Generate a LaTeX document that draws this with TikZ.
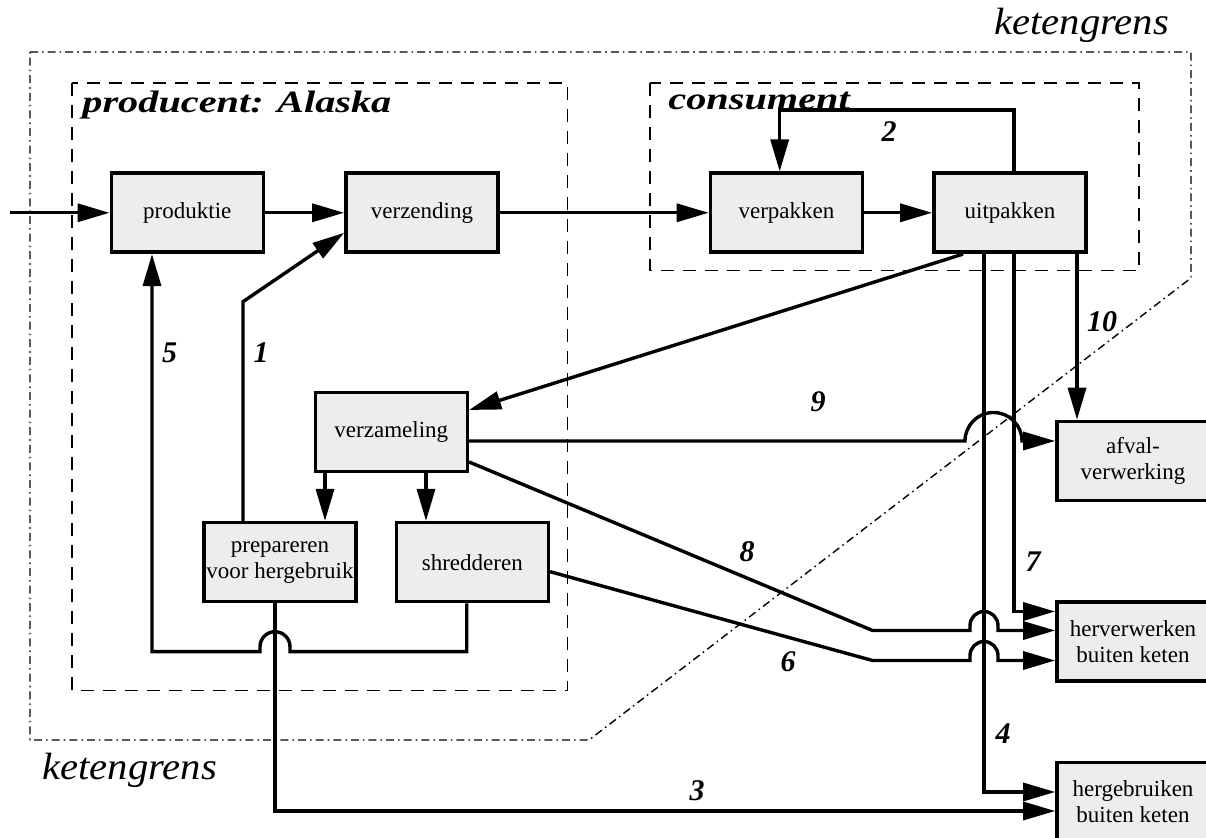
\documentclass[tikz,border=0pt]{standalone}
\usepackage{fontspec}
\usepackage{graphicx}
\setmainfont{Liberation Serif}
\usetikzlibrary{arrows.meta}

\newcommand{\boxfont}{\fontsize{11.5pt}{13pt}\selectfont}
\newcommand{\numfont}{\fontsize{15pt}{17pt}\selectfont\bfseries\itshape}
\newcommand{\zonefont}{\fontsize{15.5pt}{18pt}\selectfont\bfseries\itshape}
\newcommand{\chainfont}{\fontsize{19pt}{21pt}\selectfont\itshape}

\tikzset{
  proc/.style={draw, line width=1.8pt, fill=gray!14, minimum width=76pt,
    minimum height=39.5pt, inner sep=1pt, align=center, font=\boxfont},
  link/.style={line width=1.7pt},
  flow/.style={line width=1.7pt, -{Triangle[length=16pt,width=9pt]}},
  num/.style={font=\numfont, inner sep=0pt},
  zone/.style={line width=0.8pt, dash pattern=on 6.5pt off 4.5pt},
  chain/.style={line width=0.7pt, dash pattern=on 4pt off 2pt on 0.8pt off 2pt},
  lbl/.style={inner sep=0pt, anchor=base west},
}

\begin{document}
\begin{tikzpicture}[x=0.5pt,y=-0.5pt]
\path[use as bounding box] (0,0) rectangle (1206,838);
\clip (0,0) rectangle (1206,838);

% chain boundary and the two actor zones
\draw[chain] (30,52) -- (1191,52) -- (1191,278) -- (589,740) -- (30,740) -- cycle;
\draw[zone] (72,83.3) rectangle (567.5,690.7);
\draw[zone] (650,83.3) rectangle (1139,270.7);

\node[lbl] (kgtop) at (994,35) {\chainfont\scalebox{1.07}[1]{ketengrens}};
\node[lbl] (kgbot) at (42,780) {\chainfont\scalebox{1.07}[1]{ketengrens}};
\node[lbl] (prodzone) at (82,113) {\zonefont\scalebox{1.3}[1]{producent: Alaska}};
\node[lbl] (conszone) at (668,110) {\zonefont\scalebox{1.3}[1]{consument}};

% process steps
\node[proc] (produktie) at (187.3,212.8) {produktie};
\node[proc] (verzending) at (422,212.8) {verzending};
\node[proc] (verpakken) at (786.5,212.8) {verpakken};
\node[proc] (uitpakken) at (1010,212.8) {uitpakken};
\node[proc] (verzameling) at (391.3,432) {verzameling};
\node[proc] (prepareren) at (280,562.2) {prepareren\\voor hergebruik};
\node[proc] (shredderen) at (472.3,562.2) {shredderen};
\node[proc] (afval) at (1133,461) {afval-\\verwerking};
\node[proc] (herverwerken) at (1133,641.5) {herverwerken\\buiten keten};
\node[proc] (hergebruiken) at (1133,802) {hergebruiken\\buiten keten};

% main chain
\coordinate (src) at (9.6,212.8);
\draw[flow] (src) -- (produktie.west);
\draw[flow] (produktie.east) -- (verzending.west);
\draw[flow] (verzending.east) -- (verpakken.west);
\draw[flow] (verpakken.east) -- (uitpakken.west);

% 2: repacking loop
\draw[flow] ([xshift=2pt]uitpakken.north) -- ++(0,-61.3) -| ([xshift=-3.4pt]verpakken.north);

% flows leaving the consumer
\draw[flow] ([xshift=-23.5pt]uitpakken.south) -- ([yshift=11pt]verzameling.east);
\draw[flow] ([xshift=-13pt]uitpakken.south) |- ([yshift=5pt]hergebruiken.west);
\draw[flow] ([xshift=2pt]uitpakken.south) |- ([yshift=15pt]herverwerken.west);
\draw[flow] ([xshift=-28pt]afval.north |- uitpakken.south) -- ([xshift=-28pt]afval.north);

% collection
\draw[flow] ([xshift=-33.15pt]verzameling.south) -- ([xshift=22.5pt]prepareren.north);
\draw[flow] ([xshift=17.35pt]verzameling.south) -- ([xshift=-23.15pt]shredderen.north);

% 9: to waste processing, hopping over 4 and 7
\draw[flow] ([yshift=-4.5pt]verzameling.east) -- (965,441)
  arc[start angle=180, end angle=360, radius=28.5] -- ([yshift=10pt]afval.west);

% 8 and 6: to reprocessing outside the chain
\draw[flow] ([yshift=-15pt]verzameling.east) -- (872.5,630.5) -- (970,630.5) -- ++(0,-5)
  arc[start angle=180, end angle=360, radius=14] -- ++(0,5) -- ([yshift=5.5pt]herverwerken.west);
\draw[flow] ([yshift=-4.75pt]shredderen.east) -- (872.5,660.5) -- (970,660.5) -- ++(0,-5)
  arc[start angle=180, end angle=360, radius=14] -- ++(0,5) -- ([yshift=-9.5pt]herverwerken.west);

% 1: prepared material back to shipping
\draw[flow] ([xshift=-18.5pt]prepareren.north) -- (243,301.7) -- ([yshift=-10pt]verzending.west);

% 5: shredded material back to production
\draw[flow] ([xshift=-2.8pt]shredderen.south) |- (290,651.7) -- ++(0,-5)
  arc[start angle=0, end angle=-180, radius=15] -- ++(0,5) -- (152,651.7)
  -- ([xshift=-17.65pt]produktie.south);

% 3: reuse outside the chain
\draw[flow] ([xshift=-2.5pt]prepareren.south) |- ([yshift=-4.5pt]hergebruiken.west);

% flow numbers
\node[num] (n1) at (261,353) {1};
\node[num] (n2) at (889,132) {2};
\node[num] (n3) at (697,791) {3};
\node[num] (n4) at (1003,734) {4};
\node[num] (n5) at (169.5,353) {5};
\node[num] (n6) at (788,662) {6};
\node[num] (n7) at (1033,562) {7};
\node[num] (n8) at (747,552) {8};
\node[num] (n9) at (818,402) {9};
\node[num] (n10) at (1102,322) {10};
\end{tikzpicture}
\end{document}
